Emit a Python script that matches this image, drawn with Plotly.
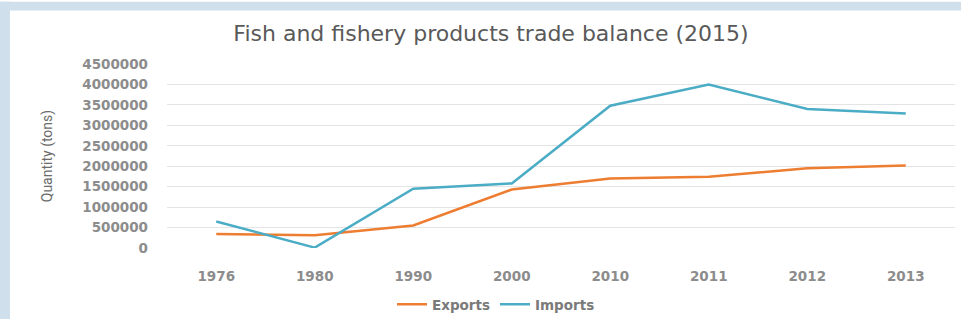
import plotly.graph_objects as go

years = ["1976", "1980", "1990", "2000", "2010", "2011", "2012", "2013"]
exports = [340000, 310000, 550000, 1430000, 1700000, 1740000, 1950000, 2020000]
imports = [650000, 10000, 1450000, 1580000, 3480000, 4000000, 3400000, 3290000]
y_ticks = [0, 500000, 1000000, 1500000, 2000000, 2500000, 3000000, 3500000, 4000000, 4500000]

W, H = 961, 326
L, R, T, B = 167, 6, 64, 73
pw, ph = W - L - R, H - T - B

def px_x(px):
    return (px - L) / pw

def px_y(py):
    return (H - B - py) / ph

TICKFONT = dict(family="DejaVu Sans", size=13.5, color="#8c8c8c", weight="bold")

fig = go.Figure()
fig.add_trace(go.Scatter(x=years, y=exports, mode="lines", name="Exports",
                         line=dict(color="#ED7D31", width=2.5)))
fig.add_trace(go.Scatter(x=years, y=imports, mode="lines", name="Imports",
                         line=dict(color="#4BACC6", width=2.5)))

border = "#cfdfeb"
fig.add_shape(type="rect", xref="paper", yref="paper", layer="below",
              x0=px_x(0), x1=px_x(10), y0=px_y(H), y1=px_y(0),
              fillcolor=border, line=dict(width=0))
fig.add_shape(type="rect", xref="paper", yref="paper", layer="below",
              x0=px_x(0), x1=px_x(W), y0=px_y(9), y1=px_y(0),
              fillcolor=border, line=dict(width=0))

fig.update_layout(
    width=W, height=H,
    margin=dict(l=L, r=R, t=T, b=B),
    paper_bgcolor="white", plot_bgcolor="white",
    title=dict(text="Fish and fishery products trade balance (2015)",
               x=491 / W, xanchor="center", xref="container",
               y=1 - 33 / H, yanchor="middle", yref="container",
               font=dict(family="DejaVu Sans", size=22, color="#595959")),
    xaxis=dict(type="category", range=[-0.5, 7.5], showgrid=False,
               showline=False, zeroline=False, ticks="",
               tickfont=TICKFONT, ticklabelstandoff=18),
    yaxis=dict(range=[0, 4500000], tickvals=y_ticks,
               ticktext=[str(v) for v in y_ticks],
               showgrid=True, gridcolor="#e4e4e4", gridwidth=1,
               zeroline=False, showline=False, ticks="",
               tickfont=TICKFONT, ticklabelstandoff=18,
               title=dict(text="Quantity (tons)", standoff=26,
                          font=dict(family="Roboto", size=14, color="#6b6b6b"))),
    legend=dict(orientation="h", x=px_x(496), xanchor="center",
                y=px_y(311), yanchor="middle",
                font=dict(family="DejaVu Sans", size=13.5, color="#7a7a7a", weight="bold"),
                tracegroupgap=0),
    showlegend=True,
)

fig.write_html("out.html")
